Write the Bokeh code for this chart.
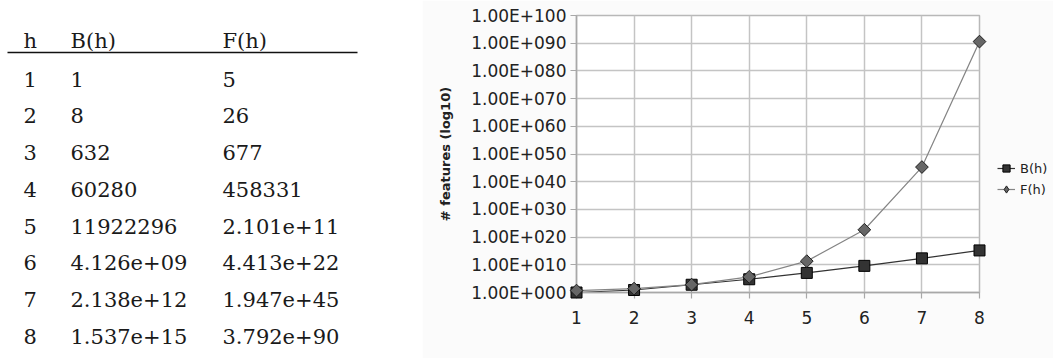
import numpy as np
from bokeh.plotting import figure
from bokeh.layouts import row
from bokeh.models import (Range1d, FixedTicker, CustomJSTickFormatter, Legend,
                          LegendItem, Label, ColumnDataSource)
from bokeh.core.properties import value
from bokeh.embed import file_html
from bokeh.resources import INLINE

# ---------------- data ----------------
headers = ["h", "B(h)", "F(h)"]
h_labels = ["1", "2", "3", "4", "5", "6", "7", "8"]
B_text = ["1", "8", "632", "60280", "11922296", "4.126e+09", "2.138e+12", "1.537e+15"]
F_text = ["5", "26", "677", "458331", "2.101e+11", "4.413e+22", "1.947e+45", "3.792e+90"]
y_ticks = [10.0 ** k for k in range(0, 101, 10)]

h = [int(s) for s in h_labels]
B = [float(s) for s in B_text]
F = [float(s) for s in F_text]

# layout constants (page pixels)
W_TABLE, W_CHART, H = 422, 631, 358
TOP, FRAME_H, FRAME_W = 15, 277, 403
BOTTOM = H - TOP - FRAME_H
LEFT = 154
RIGHT = W_CHART - LEFT - FRAME_W

# ---------------- table (left) ----------------
t = figure(width=W_TABLE, height=H, x_range=Range1d(0, W_TABLE),
           y_range=Range1d(TOP + FRAME_H, TOP),
           output_backend="svg", toolbar_location=None,
           min_border_left=0, min_border_right=0, min_border_top=TOP, min_border_bottom=BOTTOM,
           x_axis_location=None, y_axis_location=None, outline_line_color=None,
           border_fill_color="white", background_fill_color="white")
t.grid.visible = False

col_x = [23, 70, 222]
header_base = 40
row0, row_step = 78.5, 36.75

hx, hy, ht = [], [], []
for j, s in enumerate(headers):
    hx.append(col_x[j]); hy.append(header_base); ht.append(s)
for i in range(len(h_labels)):
    yb = row0 + row_step * i
    for j, s in enumerate([h_labels[i], B_text[i], F_text[i]]):
        hx.append(col_x[j]); hy.append(yb); ht.append(s)
t.text(x=hx, y=hy, text=ht, text_font=value("DejaVu Serif"), text_font_size="21px",
       text_color="#1a1a1a", text_baseline="alphabetic", text_align="left", level="overlay")
t.segment(x0=[7], y0=[52], x1=[357], y1=[52], line_color="#111111", line_width=1.6,
          level="overlay")

# ---------------- chart (right) ----------------
p = figure(width=W_CHART, height=H, frame_width=FRAME_W, frame_height=FRAME_H,
           x_range=Range1d(1, 8), y_range=Range1d(1, 1e100),
           y_axis_type="log", output_backend="svg", toolbar_location=None,
           min_border_left=LEFT, min_border_right=RIGHT, min_border_top=TOP,
           min_border_bottom=BOTTOM,
           border_fill_color="#fbfbfb", background_fill_color="white",
           outline_line_color="#b8b8b8", outline_line_width=1.5)

p.xaxis.ticker = FixedTicker(ticks=h)
p.xgrid.ticker = FixedTicker(ticks=h)
p.yaxis.ticker = FixedTicker(ticks=y_ticks)
p.ygrid.ticker = FixedTicker(ticks=y_ticks)
p.yaxis.formatter = CustomJSTickFormatter(
    code="const e = Math.round(Math.log10(tick)); return '1.00E+' + String(e).padStart(3, '0');")

p.grid.grid_line_color = "#c4c4c4"
p.grid.grid_line_width = 1.5
p.axis.axis_line_color = "#a8a8a8"
p.axis.axis_line_width = 1.5
p.axis.major_tick_line_color = "#a8a8a8"
p.axis.major_tick_line_width = 1.2
p.axis.major_tick_in = 0
p.axis.major_tick_out = 6
p.axis.minor_tick_line_color = None
p.axis.major_label_text_font = "DejaVu Sans"
p.axis.major_label_text_font_size = "17px"
p.axis.major_label_text_color = "#222222"
p.yaxis.major_label_standoff = 4
p.xaxis.major_label_standoff = 12

p.yaxis.axis_label = "# features (log10)"
p.yaxis.axis_label_text_font = "DejaVu Sans"
p.yaxis.axis_label_text_font_size = "13px"
p.yaxis.axis_label_text_font_style = "bold"
p.yaxis.axis_label_text_color = "#222222"
p.yaxis.axis_label_standoff = 15

src = ColumnDataSource(dict(h=h, B=B, F=F))
lb = p.line("h", "B", source=src, line_color="#333333", line_width=1.2)
lf = p.line("h", "F", source=src, line_color="#858585", line_width=1.2)
sb = p.scatter("h", "B", source=src, marker="square", size=11, fill_color="#333333",
               line_color="#000000", line_width=1, level="overlay")
sf = p.scatter("h", "F", source=src, marker="square", angle=np.pi / 4, size=9,
               fill_color="#666666", line_color="#1e1e1e", line_width=1, level="overlay")
# diamond used only for the legend swatch (legend swatches ignore marker angle)
sf_key = p.scatter("h", "F", source=src, marker="diamond", size=12,
                   fill_color="#666666", line_color="#1e1e1e", line_width=1, visible=False)

legend = Legend(items=[LegendItem(label="B(h)", renderers=[lb, sb]),
                       LegendItem(label="F(h)", renderers=[lf, sf_key])],
                location=(18, 93), padding=3, spacing=1, glyph_width=18, glyph_height=20,
                label_height=20, label_width=20, label_standoff=5, border_line_color=None,
                background_fill_alpha=0, label_text_font="DejaVu Sans",
                label_text_font_size="13px", label_text_color="#222222", margin=0)
p.add_layout(legend, "right")

xl = Label(x=139, y=-56, x_units="screen", y_units="screen", text="height (h)",
           text_font="DejaVu Sans", text_font_size="13px", text_font_style="bold",
           text_color="#222222", text_align="center", text_baseline="middle")
p.add_layout(xl)

layout = row(t, p)
open("out.html", "w").write(file_html(layout, INLINE))
